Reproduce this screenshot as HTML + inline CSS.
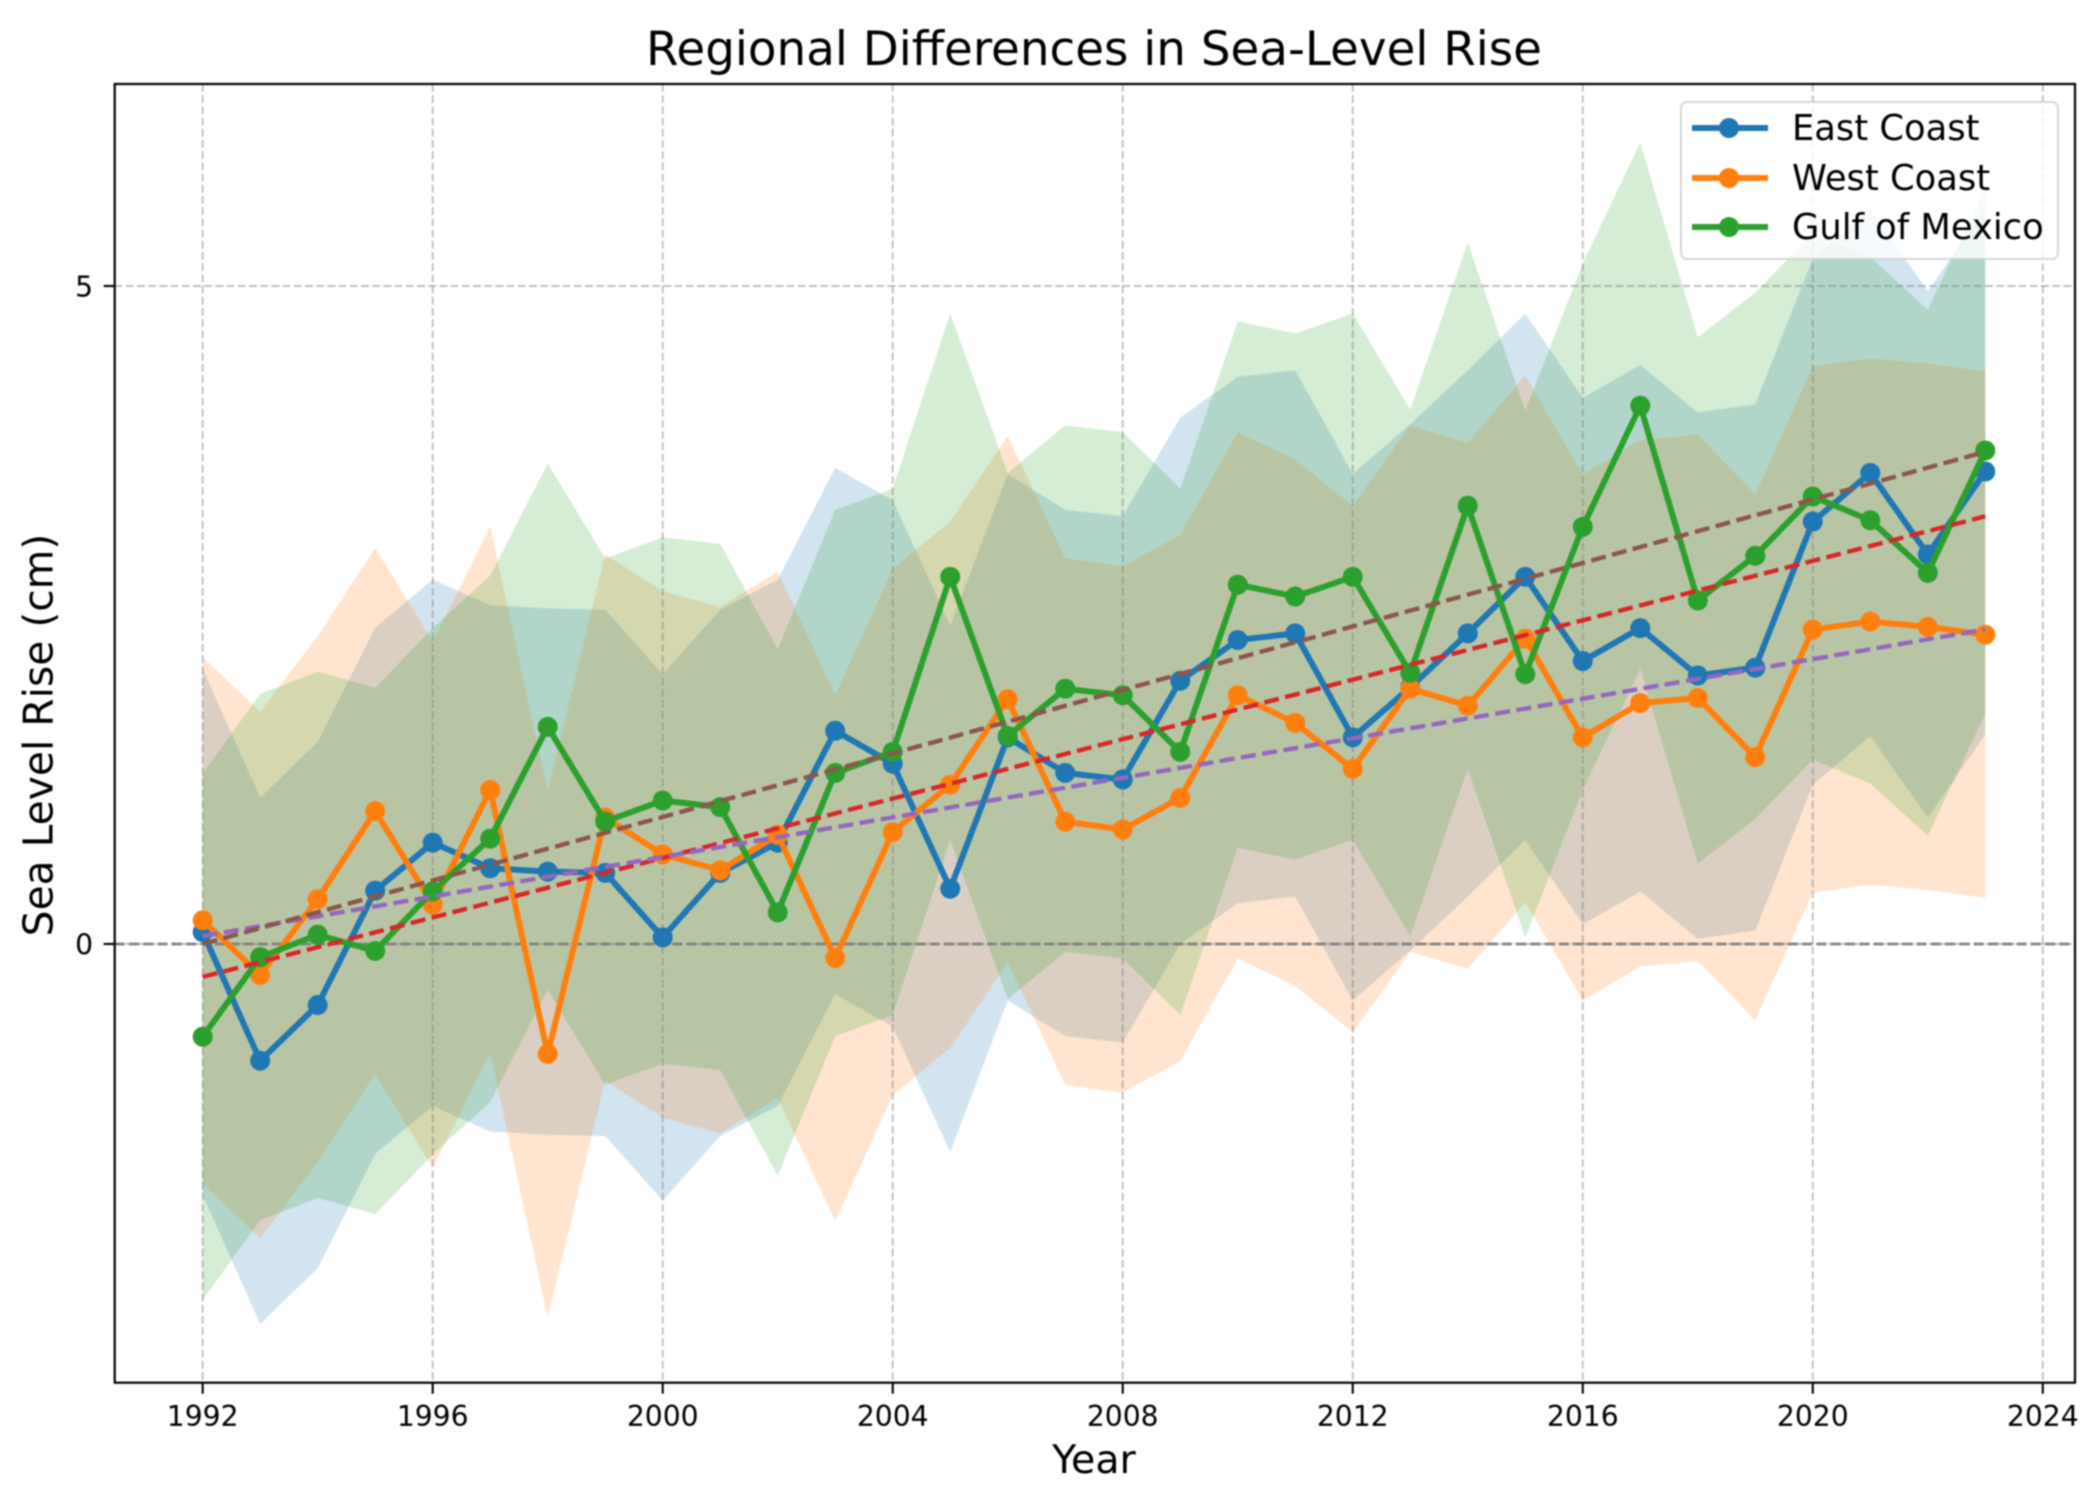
<!DOCTYPE html>
<html lang="en">
<head>
<meta charset="utf-8">
<title>Regional Differences in Sea-Level Rise</title>
<style>
html,body{margin:0;padding:0;background:#fff;width:2098px;height:1490px;overflow:hidden}
svg{display:block;filter:blur(0.8px)}
text{font-family:"DejaVu Sans","Liberation Sans",sans-serif;fill:#000}
</style>
</head>
<body>
<svg id="chart" xmlns="http://www.w3.org/2000/svg" width="2098" height="1490" viewBox="0 0 2098 1490">
<rect x="0" y="0" width="2098" height="1490" fill="#fff"/>
<g id="fills"></g>
<g id="grid"></g>
<g id="zero"></g>
<g id="lines"></g>
<g id="trends"></g>
<g id="ticks"></g>
<rect x="114.7" y="84" width="1960.3" height="1298.7" fill="none" stroke="#000" stroke-width="2.2"/>
<text x="1094" y="65" text-anchor="middle" font-size="46.8">Regional Differences in Sea-Level Rise</text>
<text x="1094" y="1473" text-anchor="middle" font-size="39.5">Year</text>
<text transform="translate(52.5 735) rotate(-90)" text-anchor="middle" font-size="40.8">Sea Level Rise (cm)</text>
<g id="legend"></g>
</svg>
<script>
const years = [1992,1993,1994,1995,1996,1997,1998,1999,2000,2001,2002,2003,2004,2005,2006,2007,2008,2009,2010,2011,2012,2013,2014,2015,2016,2017,2018,2019,2020,2021,2022,2023];
const eastCoast = [0.09,-0.887,-0.464,0.405,0.77,0.575,0.55,0.54,0.05,0.54,0.77,1.62,1.37,0.42,1.57,1.30,1.25,2.00,2.31,2.36,1.57,1.95,2.36,2.79,2.15,2.40,2.04,2.10,3.21,3.58,2.96,3.59];
const westCoast = [0.18,-0.235,0.34,1.01,0.30,1.17,-0.836,0.96,0.68,0.56,0.83,-0.107,0.85,1.21,1.86,0.93,0.87,1.11,1.89,1.68,1.33,1.94,1.81,2.32,1.57,1.83,1.87,1.42,2.39,2.45,2.41,2.35];
const gulfOfMexico = [-0.705,-0.10,0.07,-0.053,0.40,0.80,1.65,0.93,1.09,1.04,0.24,1.30,1.46,2.79,1.58,1.94,1.89,1.46,2.73,2.64,2.79,2.06,3.33,2.05,3.17,4.09,2.61,2.95,3.40,3.22,2.82,3.75];
const bandHalfWidth = [2,2,2];
const trendYears = [1992,2023];
const eastTrend = [-0.25,3.25];
const westTrend = [0.06,2.39];
const gulfTrend = [0.0,3.74];
const xTickLabels = [1992,1996,2000,2004,2008,2012,2016,2020,2024];
const yTickLabels = [0,5];
const seriesNames = ["East Coast","West Coast","Gulf of Mexico"];

const SVGNS = "http://www.w3.org/2000/svg";
const plot = {left:114.7,right:2075,top:84,bottom:1382.7};
const xDomain = [1990.47,2024.56];
const yDomain = [-3.334,6.535];
function xAxis(v){return plot.left+(v-xDomain[0])/(xDomain[1]-xDomain[0])*(plot.right-plot.left);}
function yAxis(v){return plot.bottom-(v-yDomain[0])/(yDomain[1]-yDomain[0])*(plot.bottom-plot.top);}
function make(tag,attrs,parent){
  const el=document.createElementNS(SVGNS,tag);
  for(const k in attrs){el.setAttribute(k,attrs[k]);}
  parent.appendChild(el);
  return el;
}
const fillsG=document.getElementById('fills');
const gridG=document.getElementById('grid');
const zeroG=document.getElementById('zero');
const linesG=document.getElementById('lines');
const trendsG=document.getElementById('trends');
const ticksG=document.getElementById('ticks');
const legendG=document.getElementById('legend');
const seriesValues=[eastCoast,westCoast,gulfOfMexico];
const seriesColors=["#1f77b4","#ff7f0e","#2ca02c"];
const seriesSlugs=["east-coast","west-coast","gulf-of-mexico"];

seriesValues.forEach(function(vals,s){
  const up=vals.map(function(v,i){return xAxis(years[i]).toFixed(2)+','+yAxis(v+bandHalfWidth[s]).toFixed(2);});
  const lo=vals.map(function(v,i){return xAxis(years[i]).toFixed(2)+','+yAxis(v-bandHalfWidth[s]).toFixed(2);}).reverse();
  const band=make('polygon',{points:up.concat(lo).join(' '),fill:seriesColors[s],'fill-opacity':0.2},fillsG);
  
  
});

const gridStyle={stroke:'#808080','stroke-opacity':0.5,'stroke-width':1.9,'stroke-dasharray':'7.8 3.4',fill:'none'};
xTickLabels.forEach(function(t){
  const px=xAxis(t);
  const g=make('line',Object.assign({x1:px,x2:px,y1:plot.top,y2:plot.bottom},gridStyle),gridG);
  
  
  const tk=make('line',{x1:px,x2:px,y1:plot.bottom,y2:plot.bottom+11,stroke:'#000','stroke-width':2.1},ticksG);
  
  
  const lb=make('text',{x:px,y:1426,'text-anchor':'middle','font-size':28.2},ticksG);
  lb.textContent=String(t);
  
  
});
yTickLabels.forEach(function(t){
  const py=yAxis(t);
  const g=make('line',Object.assign({x1:plot.left,x2:plot.right,y1:py,y2:py},gridStyle),gridG);
  
  
  const tk=make('line',{x1:plot.left-11,x2:plot.left,y1:py,y2:py,stroke:'#000','stroke-width':2.1},ticksG);
  
  
  const lb=make('text',{x:93,y:py+10.3,'text-anchor':'end','font-size':28.2},ticksG);
  lb.textContent=String(t);
  
  
});

const zeroLine=make('line',{x1:plot.left,x2:plot.right,y1:yAxis(0),y2:yAxis(0),stroke:'#808080','stroke-width':2.7,'stroke-dasharray':'10 4.3'},zeroG);



seriesValues.forEach(function(vals,s){
  const g=make('g',{},linesG);
  
  
  const pts=vals.map(function(v,i){return xAxis(years[i]).toFixed(2)+','+yAxis(v).toFixed(2);}).join(' ');
  const pl=make('polyline',{points:pts,fill:'none',stroke:seriesColors[s],'stroke-width':6,'stroke-linejoin':'round','stroke-linecap':'square'},g);
  
  
  vals.forEach(function(v,i){
    const c=make('circle',{cx:xAxis(years[i]),cy:yAxis(v),r:10,fill:seriesColors[s]},g);
    
    
  });
});

const trendValues=[eastTrend,westTrend,gulfTrend];
const trendColors=["#d62728","#9467bd","#8c564b"];
trendValues.forEach(function(vals,s){
  const t=make('line',{x1:xAxis(trendYears[0]),y1:yAxis(vals[0]),x2:xAxis(trendYears[1]),y2:yAxis(vals[1]),stroke:trendColors[s],'stroke-width':4.4,'stroke-dasharray':'15 6.5'},trendsG);
  
  
});

const legendBox=make('rect',{x:1681,y:102,width:377,height:157,rx:6,ry:6,fill:'#fff','fill-opacity':0.8,stroke:'#cccccc','stroke-opacity':0.8,'stroke-width':2.1},legendG);


const legendRowOffset=[128,178,227];
seriesNames.forEach(function(name,s){
  const row=legendRowOffset[s];
  const g=make('g',{},legendG);
  
  
  const l=make('line',{x1:1692,x2:1768,y1:row,y2:row,stroke:seriesColors[s],'stroke-width':6},g);
  
  
  const c=make('circle',{cx:1729,cy:row,r:10,fill:seriesColors[s]},g);
  
  
  const tx=make('text',{x:1792,y:row+12,'font-size':35.3},g);
  tx.textContent=name;
  
  
});
</script>
</body>
</html>
